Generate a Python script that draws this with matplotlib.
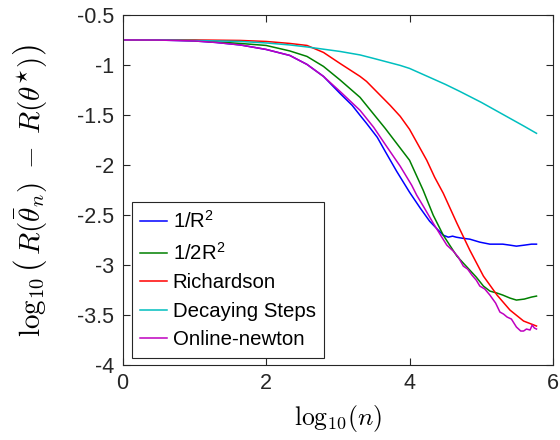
import matplotlib
matplotlib.use("Agg")
import matplotlib.pyplot as plt
from matplotlib.ticker import FuncFormatter

plt.rcParams['font.family'] = ['Liberation Sans', 'DejaVu Sans']
plt.rcParams['axes.unicode_minus'] = False

labels = ['1/R$^{\\mathregular{2}}$', '1/2R$^{\\mathregular{2}}$', 'Richardson', 'Decaying Steps', 'Online-newton']
colors = ['#0000ff', '#008000', '#ff0000', '#00bfbf', '#bf00bf']

x_inv = [0, 0.5, 1.0, 1.3, 1.64, 2.0, 2.33, 2.57, 2.8, 3.03, 3.2, 3.31, 3.4, 3.55, 3.66, 3.82, 4.0,
         4.15, 4.28, 4.4, 4.47, 4.54, 4.6, 4.65, 4.73, 4.84, 4.98, 5.12, 5.3, 5.4, 5.49, 5.6, 5.7, 5.77]
y_inv = [-0.745, -0.746, -0.755, -0.77, -0.795, -0.84, -0.90, -0.99, -1.11, -1.28, -1.40, -1.50, -1.58, -1.72, -1.86, -2.06, -2.27,
         -2.43, -2.56, -2.65, -2.70, -2.72, -2.71, -2.72, -2.73, -2.74, -2.77, -2.79, -2.79, -2.80, -2.81, -2.80, -2.79, -2.79]

x_half = [0, 0.5, 1.0, 1.64, 2.0, 2.33, 2.57, 2.8, 3.03, 3.31, 3.40, 3.66, 4.0, 4.19, 4.33, 4.47, 4.56, 4.66,
          4.75, 4.84, 4.93, 5.03, 5.12, 5.22, 5.3, 5.4, 5.49, 5.6, 5.7, 5.77]
y_half = [-0.745, -0.745, -0.75, -0.78, -0.80, -0.855, -0.91, -1.01, -1.145, -1.32, -1.40, -1.63, -1.95, -2.25, -2.50, -2.70, -2.80, -2.91,
          -2.98, -3.05, -3.12, -3.21, -3.26, -3.28, -3.30, -3.33, -3.35, -3.34, -3.32, -3.31]

x_rich = [0, 0.5, 1.0, 1.64, 2.0, 2.33, 2.57, 2.8, 3.03, 3.31, 3.40, 3.73, 3.87, 4.0, 4.24, 4.35, 4.47, 4.66,
          4.84, 5.03, 5.22, 5.40, 5.59, 5.77]
y_rich = [-0.745, -0.745, -0.745, -0.75, -0.76, -0.78, -0.80, -0.87, -0.98, -1.11, -1.16, -1.40, -1.51, -1.64, -1.95, -2.12, -2.28, -2.58,
          -2.85, -3.11, -3.30, -3.45, -3.56, -3.61]

x_dec = [0, 0.5, 1.0, 1.64, 2.0, 2.33, 2.57, 3.03, 3.31, 3.5, 3.87, 4.0, 4.5, 4.7, 5.0, 5.4, 5.6, 5.77]
y_dec = [-0.745, -0.745, -0.75, -0.76, -0.775, -0.795, -0.815, -0.86, -0.895, -0.93, -1.00, -1.03, -1.19, -1.26, -1.37, -1.53, -1.61, -1.68]

x_newt = [0, 0.5, 1.0, 1.3, 1.64, 2.0, 2.33, 2.57, 2.8, 3.03, 3.31, 3.5, 3.66, 3.87, 4.03, 4.1, 4.2, 4.33, 4.45,
          4.52, 4.61, 4.68, 4.75, 4.81, 4.87, 4.93, 4.98, 5.05, 5.12, 5.2, 5.26, 5.31, 5.36, 5.42, 5.49, 5.55,
          5.59, 5.63, 5.68, 5.71, 5.74, 5.77]
y_newt = [-0.745, -0.746, -0.755, -0.77, -0.795, -0.84, -0.90, -0.99, -1.11, -1.26, -1.45, -1.62, -1.79, -2.01, -2.20, -2.30, -2.42, -2.58, -2.72,
          -2.80, -2.86, -2.92, -3.01, -3.04, -3.10, -3.15, -3.21, -3.24, -3.30, -3.38, -3.47, -3.49, -3.52, -3.54, -3.62, -3.66,
          -3.66, -3.64, -3.65, -3.60, -3.63, -3.64]

series = [(x_inv, y_inv), (x_half, y_half), (x_rich, y_rich), (x_dec, y_dec), (x_newt, y_newt)]

fig = plt.figure(figsize=(5.6, 4.4), dpi=100)
ax = fig.add_axes([0.219, 0.1705, 0.7685, 0.7943])

for (xs, ys), c, lab in zip(series, colors, labels):
    ax.plot(xs, ys, color=c, lw=1.1, label=lab)

ax.set_xlim(0, 6)
ax.set_ylim(-4, -0.5)
ax.set_xticks([0, 2, 4, 6])
ax.set_yticks([-4, -3.5, -3, -2.5, -2, -1.5, -1, -0.5])
ax.yaxis.set_major_formatter(FuncFormatter(lambda v, p: '%g' % v))
ax.tick_params(direction='in', top=True, right=True, length=5, width=0.8,
               labelsize=15.5, colors='#262626', pad=6)
for s in ax.spines.values():
    s.set_color('#262626')
    s.set_linewidth(0.8)

ax.set_xlabel(r'$\mathrm{log}_{10}(n)$', fontsize=18.5, math_fontfamily='cm', labelpad=6)
ax.set_ylabel(r'$\log_{10}\left(\,R(\bar{\theta}_n)\;-\;R(\theta^{\star})\right)$', fontsize=21,
              math_fontfamily='cm', labelpad=20)

leg = ax.legend(loc='lower left', bbox_to_anchor=(0.021, 0.021), borderaxespad=0,
                fontsize=14.7, fancybox=False, framealpha=1, edgecolor='#262626',
                handlelength=1.35, handletextpad=0.25, labelspacing=0.47, borderpad=0.4)
leg.get_frame().set_linewidth(0.8)

fig.savefig('out.png', dpi=100)
